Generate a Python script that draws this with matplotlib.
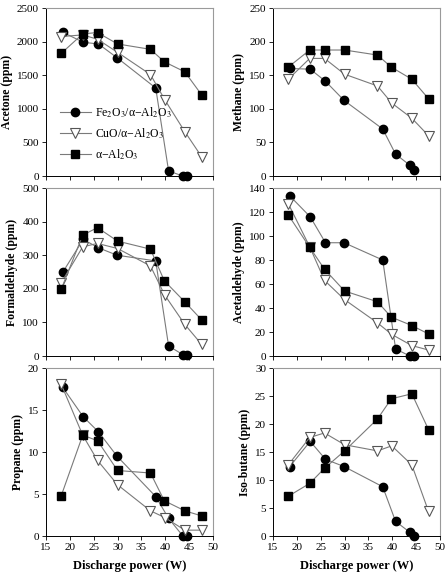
import matplotlib
matplotlib.use('Agg')
import matplotlib.pyplot as plt

plt.rcParams['font.family'] = ['Liberation Serif', 'DejaVu Serif']
plt.rcParams['mathtext.fontset'] = 'stix'

# discharge power (W)
x_fe = [18.5, 22.8, 26.0, 29.9, 38.0, 40.7, 43.7, 44.5]
x_cu = [18.2, 22.7, 25.8, 30.0, 36.9, 39.9, 44.1, 47.6]
x_al = [18.2, 22.7, 25.8, 30.0, 36.9, 39.8, 44.1, 47.6]

# concentrations (ppm)
acetone_fe = [2140, 1990, 1965, 1760, 1310, 75, 0, 0]
acetone_cu = [2075, 2100, 2035, 1840, 1510, 1135, 660, 290]
acetone_al = [1825, 2115, 2135, 1965, 1885, 1700, 1550, 1210]

methane_fe = [160, 159, 141, 112.5, 70, 32.5, 16, 8.5]
methane_cu = [144, 175, 175, 151.5, 134, 108.5, 86, 60]
methane_al = [162, 187.5, 187.5, 187.5, 180, 162, 144, 115]

formald_fe = [249, 347, 322, 300, 283, 30, 4, 2]
formald_cu = [218, 325, 335, 320, 268, 181, 94, 35]
formald_al = [199, 360, 382, 342, 318, 224, 161, 108]

acetald_fe = [133.5, 116, 94.4, 94.4, 80, 5.9, 0, 0]
acetald_cu = [127, 91, 63, 47, 27.6, 18, 8.7, 5]
acetald_al = [117.6, 90.5, 72.3, 54.2, 45.2, 32.4, 25.4, 18.4]

propane_fe = [17.7, 14.2, 12.4, 9.5, 4.7, 2.1, 0, 0]
propane_cu = [18.05, 12.0, 9.0, 6.1, 3.0, 2.2, 0.7, 0.7]
propane_al = [4.8, 12.0, 11.35, 7.8, 7.5, 4.2, 3.0, 2.4]

isobut_fe = [12.4, 16.9, 13.7, 12.4, 8.8, 2.6, 0.66, 0]
isobut_cu = [12.7, 17.6, 18.4, 16.3, 15.2, 16.1, 12.7, 4.4]
isobut_al = [7.1, 9.4, 12.1, 15.2, 20.9, 24.5, 25.4, 19.0]

panels = [
    ('Acetone (ppm)', acetone_fe, acetone_cu, acetone_al, 2500, 500),
    ('Methane (ppm)', methane_fe, methane_cu, methane_al, 250, 50),
    ('Formaldehyde (ppm)', formald_fe, formald_cu, formald_al, 500, 100),
    ('Acetaldehyde (ppm)', acetald_fe, acetald_cu, acetald_al, 140, 20),
    ('Propane (ppm)', propane_fe, propane_cu, propane_al, 20, 5),
    ('Iso-butane (ppm)', isobut_fe, isobut_cu, isobut_al, 30, 5),
]

labels = ['Fe$_2$O$_3$/α\u2212Al$_2$O$_3$',
          'CuO/α\u2212Al$_2$O$_3$',
          'α\u2212Al$_2$O$_3$']

fig = plt.figure(figsize=(4.46, 5.76), dpi=100)
lefts = [0.1031, 0.6121]
bottoms = [0.6944, 0.3819, 0.0694]
w, h = 0.3744, 0.2917

line_col = '#7a7a7a'
for i, (ylab, fe, cu, al, ymax, ystep) in enumerate(panels):
    row, col = divmod(i, 2)
    ax = fig.add_axes([lefts[col], bottoms[row], w, h])
    ax.plot(x_fe, fe, '-o', color=line_col, lw=0.8, mfc='black', mec='black',
            ms=6, clip_on=False, zorder=3, label=labels[0])
    ax.plot(x_cu, cu, '-v', color=line_col, lw=0.8, mfc='white', mec='#555555',
            ms=7, mew=0.8, clip_on=False, zorder=3, label=labels[1])
    ax.plot(x_al, al, '-s', color=line_col, lw=0.8, mfc='black', mec='black',
            ms=5.5, clip_on=False, zorder=3, label=labels[2])
    ax.set_xlim(15, 50)
    ax.set_ylim(0, ymax)
    ax.set_xticks(range(15, 51, 5))
    ax.set_yticks(range(0, ymax + 1, ystep))
    ax.tick_params(direction='out', length=3, width=0.6, labelsize=8, pad=2)
    ax.set_ylabel(ylab, fontsize=8.5, fontweight='bold', labelpad=3)
    for s in ['top', 'right']:
        ax.spines[s].set_color('#9a9a9a')
        ax.spines[s].set_linewidth(0.8)
    for s in ['left', 'bottom']:
        ax.spines[s].set_linewidth(0.7)
    if row < 2:
        ax.set_xticklabels([])
    else:
        ax.set_xlabel('Discharge power (W)', fontsize=9, fontweight='bold', labelpad=6)
    if i == 0:
        ax.legend(loc='lower left', bbox_to_anchor=(0.02, 0.02), frameon=False,
                  fontsize=8.5, handlelength=2.6, labelspacing=0.55, handletextpad=0.4)

fig.savefig('out.png', dpi=100)
